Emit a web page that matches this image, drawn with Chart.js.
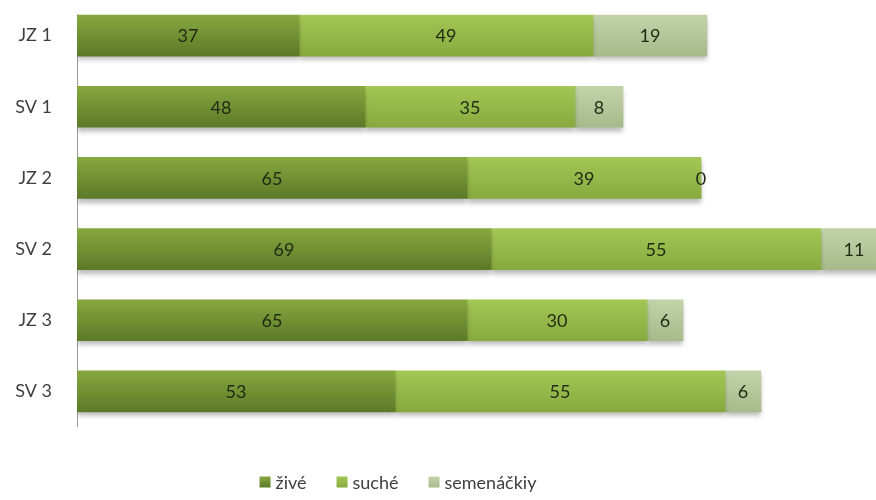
<!DOCTYPE html>
<html>
<head>
<meta charset="utf-8">
<script src="https://cdn.jsdelivr.net/npm/chart.js@4/dist/chart.umd.min.js"></script>
<style>
  html, body { margin: 0; padding: 0; background: #fff; overflow: hidden; }
  #wrap { width: 876px; height: 500px; overflow: hidden; }
  canvas { display: block; }
</style>
</head>
<body>
<div id="wrap"><canvas id="c" width="930" height="500"></canvas></div>
<script>
// Plots by site and plot number
const categories = ['JZ 1', 'SV 1', 'JZ 2', 'SV 2', 'JZ 3', 'SV 3'];
const seriesNames = ['živé', 'suché', 'semenáčkiy'];
const zive = [37, 48, 65, 69, 65, 53];
const suche = [49, 35, 39, 55, 30, 55];
const semenacky = [19, 8, 0, 11, 6, 6];

const FONT = 'Lato, "Open Sans", sans-serif';
const BAR_H = 41;

// top / bottom colour of each series' vertical gradient
const shades = [
  ['#86a83f', '#5c7a28'],
  ['#a3c755', '#86aa3e'],
  ['#c2d3aa', '#a7ba8a']
];

function barFill(idx) {
  return function (ctx) {
    const ys = ctx.chart.scales && ctx.chart.scales.y;
    if (ctx.type !== 'data' || !ys || ys.top === undefined) return shades[idx][1];
    const c = ys.getPixelForValue(ctx.dataIndex);
    const g = ctx.chart.ctx.createLinearGradient(0, c - BAR_H / 2, 0, c + BAR_H / 2);
    g.addColorStop(0, shades[idx][0]);
    g.addColorStop(1, shades[idx][1]);
    return g;
  };
}

const shadowPlugin = {
  id: 'barShadow',
  beforeDatasetsDraw(chart) {
    const ctx = chart.ctx;
    ctx.save();
    ctx.shadowColor = 'rgba(0,0,0,0.28)';
    ctx.shadowBlur = 5;
    ctx.shadowOffsetY = 4;
  },
  afterDatasetsDraw(chart) {
    chart.ctx.restore();
  }
};

const axisLinePlugin = {
  id: 'axisLine',
  beforeDatasetsDraw(chart) {
    const ctx = chart.ctx;
    const ys = chart.scales.y;
    const x = chart.chartArea.left + 0.5;
    const top = ys.getPixelForValue(0) - BAR_H / 2 - 1;
    ctx.save();
    ctx.strokeStyle = '#9a9a9a';
    ctx.lineWidth = 1;
    ctx.beginPath();
    ctx.moveTo(x, top);
    ctx.lineTo(x, chart.chartArea.bottom);
    ctx.stroke();
    ctx.restore();
  }
};

const valueLabelPlugin = {
  id: 'valueLabels',
  afterDatasetsDraw(chart) {
    const ctx = chart.ctx;
    ctx.save();
    ctx.font = '18px ' + FONT;
    ctx.fillStyle = '#1e2a14';
    ctx.textAlign = 'center';
    ctx.textBaseline = 'middle';
    chart.data.datasets.forEach((ds, di) => {
      const meta = chart.getDatasetMeta(di);
      meta.data.forEach((bar, i) => {
        const p = bar.getProps(['x', 'y', 'base'], true);
        const cx = (p.x + p.base) / 2;
        ctx.fillText(String(ds.data[i]), cx, p.y + 1);
      });
    });
    ctx.restore();
  }
};

const legendPlugin = {
  id: 'bottomLegend',
  afterDraw(chart) {
    const ctx = chart.ctx;
    ctx.save();
    ctx.font = '18px ' + FONT;
    ctx.textBaseline = 'middle';
    const box = 11, gapText = 5, gapItem = 30;
    const widths = seriesNames.map(n => box + gapText + ctx.measureText(n).width);
    const total = widths.reduce((a, b) => a + b, 0) + gapItem * (widths.length - 1);
    let x = 398 - total / 2;
    const y = 482;
    seriesNames.forEach((n, i) => {
      const g = ctx.createLinearGradient(0, y - box / 2, 0, y + box / 2);
      g.addColorStop(0, shades[i][0]);
      g.addColorStop(1, shades[i][1]);
      ctx.fillStyle = g;
      ctx.fillRect(x, y - box / 2, box, box);
      ctx.fillStyle = '#404040';
      ctx.fillText(n, x + box + gapText, y + 1);
      x += widths[i] + gapItem;
    });
    ctx.restore();
  }
};

new Chart(document.getElementById('c'), {
  type: 'bar',
  data: {
    labels: categories,
    datasets: [
      { label: seriesNames[0], data: zive, backgroundColor: barFill(0) },
      { label: seriesNames[1], data: suche, backgroundColor: barFill(1) },
      { label: seriesNames[2], data: semenacky, backgroundColor: barFill(2) }
    ]
  },
  options: {
    indexAxis: 'y',
    responsive: false,
    animation: false,
    layout: { padding: { top: 0, right: 13, bottom: 73, left: 0 } },
    datasets: { bar: { barThickness: BAR_H, borderWidth: 0 } },
    scales: {
      x: {
        stacked: true, display: false, min: 0, max: 140
      },
      y: {
        stacked: true,
        grid: { display: false, drawTicks: false },
        border: { display: false },
        ticks: { padding: 25, color: '#404040', font: { size: 18, family: FONT } },
        afterFit(scale) {
          scale.width = 77;
          scale.paddingTop = 0;
          scale.paddingBottom = 0;
        }
      }
    },
    plugins: {
      legend: { display: false },
      tooltip: { enabled: false }
    }
  },
  plugins: [axisLinePlugin, shadowPlugin, valueLabelPlugin, legendPlugin]
});
</script>
</body>
</html>
